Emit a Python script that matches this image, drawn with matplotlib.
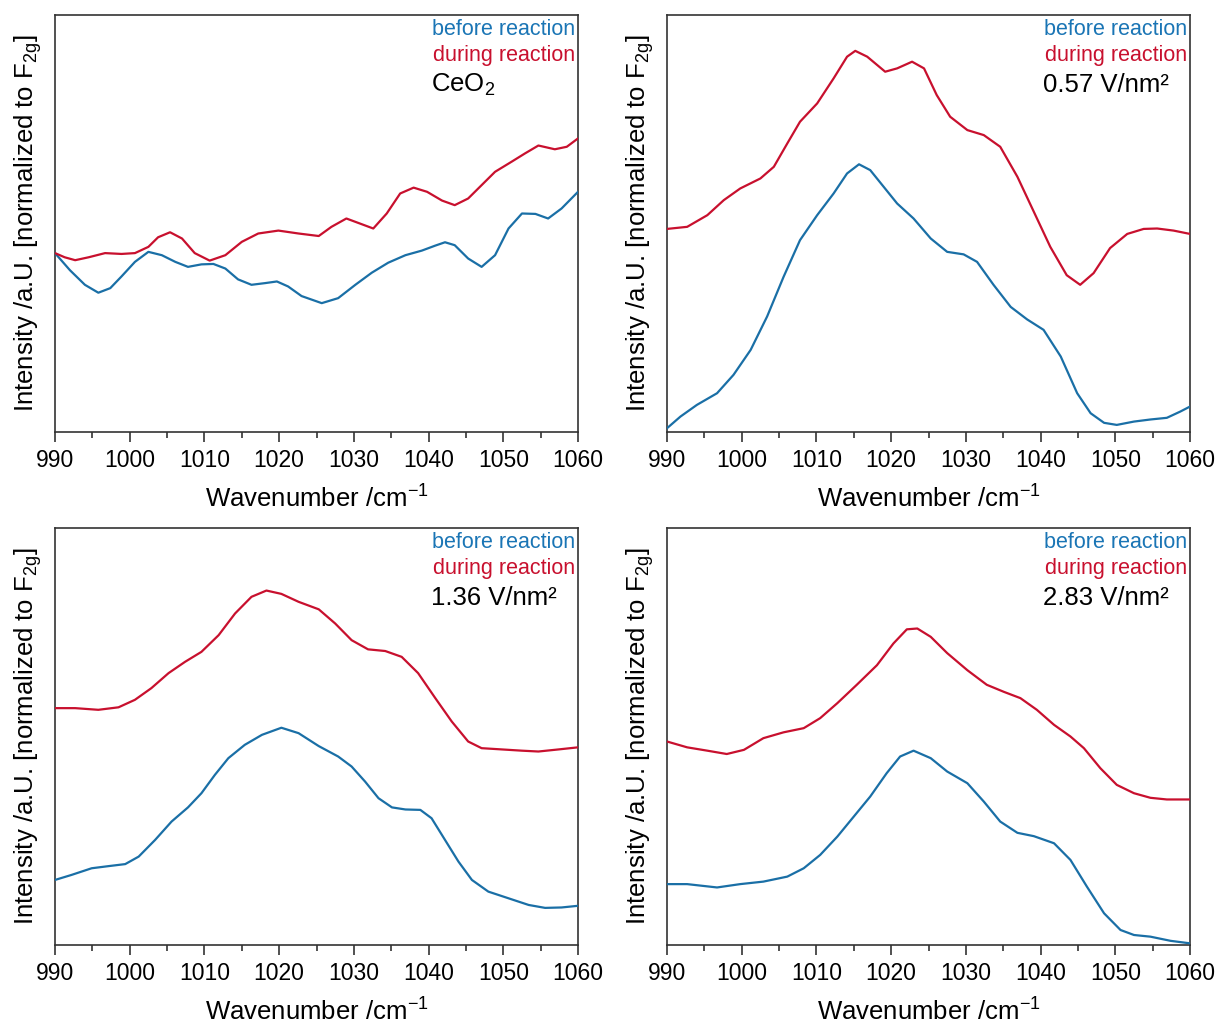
import matplotlib
matplotlib.use("Agg")
import matplotlib.pyplot as plt
from matplotlib.ticker import MultipleLocator, NullLocator

plt.rcParams['font.family'] = ['Liberation Sans', 'DejaVu Sans']
plt.rcParams['mathtext.fontset'] = 'custom'
plt.rcParams['mathtext.rm'] = 'Liberation Sans'
plt.rcParams['mathtext.it'] = 'Liberation Sans:italic'
plt.rcParams['mathtext.bf'] = 'Liberation Sans:bold'

BLUE = '#1a6fa6'
RED = '#c8102e'
BLUE_TXT = '#1a75b5'

# ---- CeO2 ----
ceo2_before_x = [990, 992, 994, 995.8, 997.4, 998.9, 1000.7, 1002.5, 1004.3, 1006.1, 1007.8,
                 1009.6, 1011.2, 1012.8, 1014.5, 1016.3, 1018.1, 1019.7, 1021.2, 1023,
                 1025.7, 1027.9, 1030.2, 1032.4, 1034.6, 1036.9, 1039.1, 1040.9, 1042.2,
                 1043.5, 1045.3, 1047.1, 1048.9, 1050.7, 1052.5, 1054.3, 1056, 1057.8, 1060]
ceo2_before_y = [42.9, 38.8, 35.3, 33.4, 34.5, 37.3, 40.8, 43.2, 42.4, 40.8, 39.6,
                 40.2, 40.3, 39.2, 36.6, 35.3, 35.7, 36.1, 34.9, 32.6,
                 30.9, 32.1, 35.3, 38.2, 40.6, 42.4, 43.5, 44.7, 45.5,
                 44.8, 41.6, 39.6, 42.4, 48.8, 52.4, 52.3, 51.2, 53.6, 57.6]
ceo2_during_x = [990, 991.3, 992.7, 994.5, 996.7, 998.9, 1000.7, 1002.5, 1003.8, 1005.4,
                 1007, 1008.7, 1010.7, 1012.8, 1015, 1017.2, 1019.9, 1022.6, 1025.3, 1027,
                 1029, 1030.8, 1032.6, 1034.4, 1036.2, 1038, 1039.8, 1041.8, 1043.5,
                 1045.3, 1047.1, 1048.9, 1051.1, 1052.9, 1054.7, 1056.9, 1058.5, 1060]
ceo2_during_y = [42.9, 41.9, 41.2, 41.9, 42.9, 42.7, 42.9, 44.4, 46.7, 47.9,
                 46.4, 42.9, 41.1, 42.4, 45.6, 47.6, 48.3, 47.6, 47.0, 49.2,
                 51.2, 50.0, 48.8, 52.4, 57.2, 58.6, 57.6, 55.5, 54.4,
                 56.0, 59.2, 62.4, 64.8, 66.8, 68.7, 67.8, 68.4, 70.4]

# ---- 0.57 V/nm2 ----
v057_before_x = [990, 991.8, 994, 996.7, 998.9, 1001.2, 1003.4, 1005.6, 1007.8, 1010.1,
                 1012.3, 1014.1, 1015.7, 1017.2, 1019, 1020.8, 1023, 1025.3, 1027.5, 1029.7,
                 1031.5, 1033.7, 1036, 1038.2, 1040.4, 1042.7, 1044.9, 1046.7, 1048.5,
                 1050.2, 1052.5, 1054.7, 1056.9, 1058.7, 1060]
v057_before_y = [0.9, 3.7, 6.5, 9.3, 13.7, 19.7, 27.7, 37.2, 46.0, 52.0,
                 57.2, 62.0, 64.2, 62.8, 58.8, 54.8, 51.2, 46.4, 43.2, 42.6,
                 40.8, 35.3, 30.0, 27.0, 24.5, 18.1, 9.3, 4.5, 2.2,
                 1.7, 2.5, 3.0, 3.4, 4.9, 6.1]
v057_during_x = [990, 992.7, 995.4, 997.6, 999.8, 1002.5, 1004.3, 1006.1, 1007.8, 1010.1,
                 1012.3, 1014.1, 1015.2, 1016.8, 1019.2, 1020.8, 1022.8, 1024.4, 1026.1,
                 1027.9, 1030.2, 1032.4, 1034.6, 1036.9, 1039.1, 1041.3, 1043.5, 1045.3,
                 1047.1, 1049.3, 1051.6, 1053.8, 1055.6, 1057.8, 1060]
v057_during_y = [48.7, 49.2, 52.0, 55.6, 58.4, 60.8, 63.6, 69.2, 74.4, 78.8,
                 84.8, 90.0, 91.4, 90.0, 86.4, 87.2, 88.8, 87.2, 80.8,
                 75.6, 72.4, 71.2, 68.4, 61.2, 52.8, 44.4, 37.6, 35.3,
                 38.1, 44.1, 47.5, 48.7, 48.8, 48.3, 47.5]

# ---- 1.36 V/nm2 ----
v136_before_x = [990, 992.2, 994.9, 997.1, 999.4, 1001.2, 1003.4, 1005.6, 1007.8, 1009.6,
                 1011.4, 1013.2, 1015.4, 1017.7, 1020.3, 1022.6, 1025.3, 1027.9, 1029.7,
                 1031.5, 1033.3, 1035.1, 1036.9, 1038.9, 1040.4, 1042.2, 1044, 1045.8,
                 1048, 1050.7, 1053.4, 1055.6, 1057.8, 1060]
v136_before_y = [15.6, 16.8, 18.4, 18.9, 19.4, 21.2, 25.2, 29.6, 33.0, 36.4,
                 40.8, 44.8, 48.0, 50.4, 52.1, 50.8, 47.7, 45.2, 42.8,
                 39.2, 35.2, 33.0, 32.5, 32.4, 30.4, 25.2, 20.0, 15.6,
                 12.8, 11.2, 9.6, 8.9, 9.0, 9.4]
v136_during_x = [990, 992.7, 995.8, 998.5, 1000.7, 1002.9, 1005.2, 1007.4, 1009.6, 1011.9,
                 1014.1, 1016.3, 1018.3, 1020.3, 1022.6, 1025.3, 1027.5, 1029.7, 1031.9,
                 1034.2, 1036.4, 1038.6, 1040.9, 1043.1, 1045.3, 1047.1, 1049.8, 1052.5,
                 1054.7, 1057.4, 1060]
v136_during_y = [56.8, 56.8, 56.4, 57.0, 58.8, 61.6, 65.2, 67.9, 70.3, 74.3,
                 79.5, 83.5, 85.0, 84.2, 82.3, 80.5, 77.1, 73.1, 70.9,
                 70.5, 69.1, 65.2, 59.2, 53.6, 48.8, 47.2, 46.9, 46.6,
                 46.4, 46.9, 47.4]

# ---- 2.83 V/nm2 ----
v283_before_x = [990, 992.7, 996.7, 999.8, 1002.9, 1006.1, 1008.3, 1010.5, 1012.8, 1015,
                 1017.2, 1019.4, 1021.2, 1023, 1025.3, 1027.5, 1030.2, 1032.4, 1034.6,
                 1036.9, 1039.1, 1041.8, 1044, 1046.2, 1048.5, 1050.7, 1052.5, 1054.7,
                 1057.4, 1060]
v283_before_y = [14.6, 14.6, 13.8, 14.6, 15.2, 16.4, 18.4, 21.6, 26.0, 30.8,
                 35.6, 41.2, 45.2, 46.6, 44.8, 41.6, 38.8, 34.4, 29.6,
                 26.9, 26.1, 24.4, 20.4, 14.0, 7.6, 3.6, 2.4, 2.0,
                 1.0, 0.4]
v283_during_x = [990, 992.7, 995.4, 998, 1000.3, 1002.9, 1005.6, 1008.3, 1010.5, 1012.8,
                 1015.4, 1018.1, 1020.3, 1022.1, 1023.5, 1025.3, 1027.5, 1030.2, 1032.8,
                 1035.1, 1037.3, 1039.5, 1041.8, 1044, 1045.8, 1048, 1050.2, 1052.5,
                 1054.7, 1056.9, 1060]
v283_during_y = [48.8, 47.4, 46.6, 45.8, 46.8, 49.6, 51.0, 52.0, 54.4, 58.0,
                 62.4, 67.1, 72.3, 75.7, 75.9, 73.9, 70.0, 65.9, 62.4,
                 60.7, 59.2, 56.4, 52.8, 50.0, 47.2, 42.4, 38.4, 36.4,
                 35.3, 34.9, 34.9]

panels = [
    (ceo2_before_x, ceo2_before_y, ceo2_during_x, ceo2_during_y, r'CeO$_2$'),
    (v057_before_x, v057_before_y, v057_during_x, v057_during_y, '0.57 V/nm²'),
    (v136_before_x, v136_before_y, v136_during_x, v136_during_y, '1.36 V/nm²'),
    (v283_before_x, v283_before_y, v283_during_x, v283_during_y, '2.83 V/nm²'),
]

W, H = 1218, 1026
fig = plt.figure(figsize=(W / 100, H / 100), dpi=100)

# axes boxes in pixels: (left, top, right, bottom)
boxes = [(55, 15, 578, 432), (667, 15, 1190, 432),
         (55, 528, 578, 945), (667, 528, 1190, 945)]

for (bx, by, dx, dy, label), (l, t, r, b) in zip(panels, boxes):
    ax = fig.add_axes([l / W, 1 - b / H, (r - l) / W, (b - t) / H])
    ax.plot(bx, by, color=BLUE, lw=1.6, zorder=3, solid_joinstyle='round')
    ax.plot(dx, dy, color=RED, lw=1.6, zorder=3, solid_joinstyle='round')
    ax.set_xlim(990, 1060)
    ax.set_ylim(0, 100)
    ax.xaxis.set_major_locator(MultipleLocator(10))
    ax.xaxis.set_minor_locator(MultipleLocator(5))
    ax.yaxis.set_major_locator(NullLocator())
    ax.tick_params(axis='x', which='major', direction='out', length=7, width=1.2,
                   labelsize=16.5, pad=5, color='#333333', labelcolor='black')
    ax.tick_params(axis='x', which='minor', direction='out', length=4, width=1.2,
                   color='#333333')
    for s in ax.spines.values():
        s.set_linewidth(1.2)
        s.set_color('#333333')
    ax.set_xlabel(r'Wavenumber /cm$^{-1}$', fontsize=18.5, labelpad=10)
    ax.set_ylabel(r'Intensity /a.U. [normalized to F$_{\mathrm{2g}}$]', fontsize=18.5,
                  labelpad=8)
    ax.text(0.995, 0.966, 'before reaction', color=BLUE_TXT, fontsize=15.5,
            ha='right', va='center', transform=ax.transAxes)
    ax.text(0.995, 0.902, 'during reaction', color=RED, fontsize=15.5,
            ha='right', va='center', transform=ax.transAxes)
    ax.text(0.719, 0.832, label, color='black', fontsize=18.5,
            ha='left', va='center', transform=ax.transAxes)

fig.savefig('out.png', dpi=100)
